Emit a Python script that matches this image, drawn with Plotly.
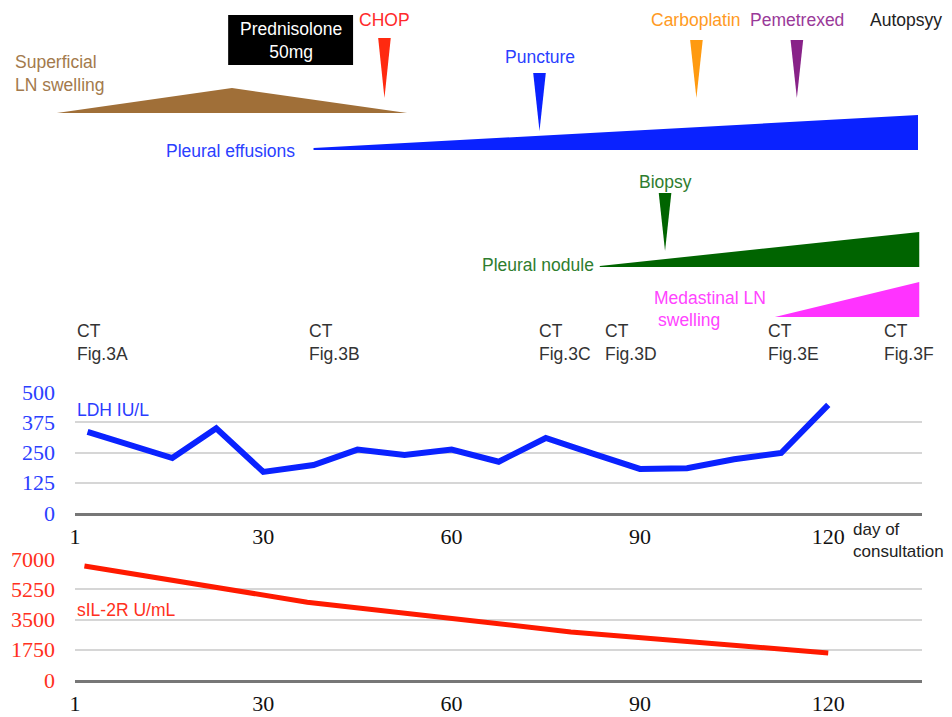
import plotly.graph_objects as go

# ---------------- data ----------------
# LDH (IU/L) by day of consultation
ldh_day = [2, 15.5, 22.5, 30, 38, 45, 52.5, 60, 67.5, 75, 82.5, 90, 97.5, 105, 112.5, 120]
ldh_val = [335, 227, 350, 170, 198, 262, 240, 262, 212, 310, 245, 182, 185, 222, 248, 447]

# sIL-2R (U/mL) by day of consultation
sil_day = [1.5, 37, 79, 120]
sil_val = [6600, 4500, 2780, 1560]

# axis ticks
x_tickvals = [0, 30, 60, 90, 120]
x_ticktext = ["1", "30", "60", "90", "120"]
ldh_ticks = [0, 125, 250, 375, 500]
sil_ticks = [0, 1750, 3500, 5250, 7000]

# timeline events (day)
event_names = ["CHOP", "Puncture", "Carboplatin", "Pemetrexed", "Biopsy"]
event_days = [49.3, 74.0, 99.0, 115.0, 94.0]
autopsy_day = 132.4

# prednisolone period (days)
pred_start, pred_end = 24.4, 44.3

# lesion course (days)
ln_sw_days = [-2.9, 25.0, 52.9]          # superficial LN swelling: start, peak, end
effusion_days = [38.0, 134.3]            # pleural effusions: start, end
nodule_days = [83.6, 134.5]              # pleural nodule
mediast_days = [111.5, 134.5]            # mediastinal LN swelling

# CT examinations
ct_days = [0, 37, 73.6, 84.1, 110.1, 128.6]
ct_labels = ["Fig.3A", "Fig.3B", "Fig.3C", "Fig.3D", "Fig.3E", "Fig.3F"]

# ---------------- layout geometry ----------------
OFF = 8                        # page body margin
W, H = 952 - OFF, 717 - OFF
X0, PPD = 75, 6.277            # screen pixel of day 0, pixels per day
XMAX = 135
xdom = [(X0 - OFF) / W, (X0 + XMAX * PPD - OFF) / W]
x3range = [(OFF - X0) / PPD, (952 - X0) / PPD]

def px(p):
    return (p - OFF) / W

def py(p):
    return 1 - (p - OFF) / H

SANS = "Liberation Sans"
SERIF = "Liberation Serif"
FS = 17.5

BLUE = "#0a22ff"
RED = "#ff1a00"
BROWN = "#a06f38"
GREEN = "#006400"
MAGENTA = "#ff33ff"
ORANGE = "#ff9a10"
PURPLE = "#882288"

event_colors = ["#ff2a10", BLUE, ORANGE, PURPLE, GREEN]
event_label_colors = ["#ff2a2a", "#2a40ff", "#ff9a22", "#9a3a99", "#2e7d2e"]
event_top = [38, 73, 40, 40, 193]
event_tip = [98, 131, 98, 98, 251]
event_label_y = [20, 57, 20, 20, 182]

fig = go.Figure()

# lab lines
fig.add_trace(go.Scatter(x=ldh_day, y=ldh_val, xaxis="x", yaxis="y", mode="lines",
                         line=dict(color=BLUE, width=6), hoverinfo="skip"))
fig.add_trace(go.Scatter(x=sil_day, y=sil_val, xaxis="x2", yaxis="y2", mode="lines",
                         line=dict(color=RED, width=5), hoverinfo="skip"))

# timeline shapes as filled traces on x3/y3 (y3 in screen pixel rows, reversed)
def poly(xs, ys, color):
    fig.add_trace(go.Scatter(x=xs, y=ys, xaxis="x3", yaxis="y3", mode="lines",
                             fill="toself", fillcolor=color, line=dict(width=0, color=color),
                             hoverinfo="skip"))

poly([ln_sw_days[0], ln_sw_days[1], ln_sw_days[2], ln_sw_days[0]], [113, 88, 113, 113], BROWN)
poly([effusion_days[0], effusion_days[1], effusion_days[1], effusion_days[0], effusion_days[0]],
     [148, 115, 150, 150, 148], BLUE)
poly([nodule_days[0], nodule_days[1], nodule_days[1], nodule_days[0], nodule_days[0]],
     [266, 232, 267, 267, 266], GREEN)
poly([mediast_days[0], mediast_days[1], mediast_days[1], mediast_days[0]],
     [317, 282, 317, 317], MAGENTA)

hw = 6.3 / PPD
for d, c, t, b in zip(event_days, event_colors, event_top, event_tip):
    poly([d - hw, d + hw, d, d - hw], [t, t, b, t], c)

annotations = []
def ann(text, x, y, xref="x3", yref="y3", color="#222", xanchor="center", align="center",
        size=FS, family=SANS):
    annotations.append(dict(text=text, x=x, y=y, xref=xref, yref=yref, xanchor=xanchor,
                            yanchor="middle", align=align, showarrow=False,
                            font=dict(family=family, size=size, color=color)))

for n, d, c, ly in zip(event_names, event_days, event_label_colors, event_label_y):
    ann(n, d, ly, color=c)
ann("Autopsyy", autopsy_day, 20, color="#222")

ann("Superficial<br>LN swelling", px(13), 73, xref="paper", color="#a37a4c",
    xanchor="left", align="left")
ann("Prednisolone<br>50mg", (pred_start + pred_end) / 2, 40, color="white")
ann("Pleural effusions", effusion_days[0] - 2.6, 151, color="#2a40ff", xanchor="right")
ann("Pleural nodule", nodule_days[0] - 0.6, 265, color="#2e7d2e", xanchor="right")
ann("Medastinal LN", mediast_days[0] - 10.4, 298, color="#ff44ff")
ann("swelling", mediast_days[0] - 13.7, 320, color="#ff44ff")

for d, lab in zip(ct_days, ct_labels):
    ann("CT<br>" + lab, d, 342, color="#333", xanchor="left", align="left")

ann("LDH IU/L", px(X0), py(410), xref="paper", yref="paper", color="#2a3cff",
    xanchor="left")
ann("sIL-2R U/mL", px(X0), py(610), xref="paper", yref="paper", color="#ff3020",
    xanchor="left")
ann("day of<br>consultation", px(851), py(540), xref="paper", yref="paper", color="#222",
    xanchor="left", align="left", size=17)

shapes = [dict(type="rect", xref="x3", yref="y3", x0=pred_start, x1=pred_end, y0=15, y1=65,
               fillcolor="black", line=dict(width=0), layer="below")]

common_x = dict(domain=xdom, range=[0, XMAX], tickvals=x_tickvals, ticktext=x_ticktext,
                showgrid=False, zeroline=False, showline=True, linecolor="#777777",
                linewidth=2.5, ticks="", ticklabelstandoff=2,
                tickfont=dict(family=SERIF, size=22, color="#111"), automargin=False)

fig.update_layout(
    width=W, height=H, margin=dict(l=0, r=0, t=0, b=0),
    paper_bgcolor="white", plot_bgcolor="rgba(0,0,0,0)",
    showlegend=False, hovermode=False,
    xaxis=dict(anchor="y", **common_x),
    xaxis2=dict(anchor="y2", **common_x),
    yaxis=dict(domain=[py(513), py(392)], range=[0, 500], tickvals=ldh_ticks,
               showgrid=True, gridcolor="#d6d6d6", gridwidth=2, zeroline=False,
               showline=False, ticks="", ticklabelstandoff=19, automargin=False,
               tickfont=dict(family=SERIF, size=22, color="#2a40ff")),
    yaxis2=dict(domain=[py(680), py(559)], range=[0, 7000], tickvals=sil_ticks,
                showgrid=True, gridcolor="#d6d6d6", gridwidth=2, zeroline=False,
                showline=False, ticks="", ticklabelstandoff=19, automargin=False,
                tickfont=dict(family=SERIF, size=22, color="#ff3020")),
    xaxis3=dict(domain=[0, 1], range=x3range, visible=False, anchor="y3"),
    yaxis3=dict(domain=[0, 1], range=[717, OFF], visible=False, anchor="x3"),
    annotations=annotations, shapes=shapes,
)

fig.write_html("out.html")
